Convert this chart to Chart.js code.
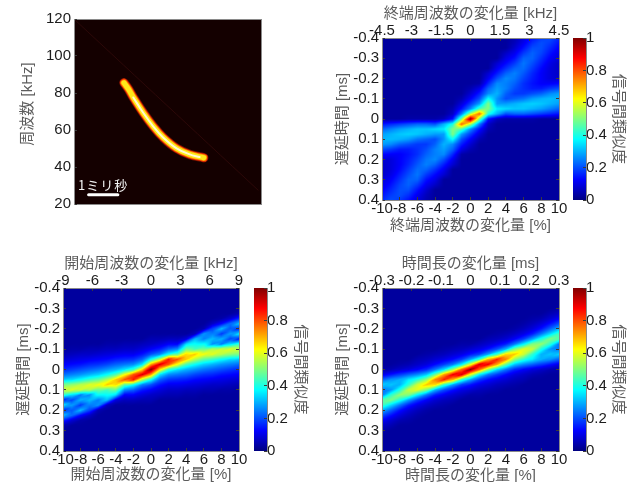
<!DOCTYPE html>
<html>
<head>
<meta charset="utf-8">
<script src="https://cdn.jsdelivr.net/npm/chart.js@4"></script>
<style>
  html, body { margin: 0; background: #fff; overflow: hidden; width: 642px; height: 482px; }
  canvas { position: absolute; filter: blur(0.5px); }
</style>
</head>
<body>
<script>
// eixos
const pctAxis = [-10, -9, -8, -7, -6, -5, -4, -3, -2, -1, 0, 1, 2, 3, 4, 5, 6, 7, 8, 9, 10];
const delayAxis = [-0.4, -0.375, -0.35, -0.325, -0.3, -0.275, -0.25, -0.225, -0.2, -0.175, -0.15, -0.125, -0.1, -0.075, -0.05, -0.025, 0,
  0.025, 0.05, 0.075, 0.1, 0.125, 0.15, 0.175, 0.2, 0.225, 0.25, 0.275, 0.3, 0.325, 0.35, 0.375, 0.4];
const pctTicks = [-10, -8, -6, -4, -2, 0, 2, 4, 6, 8, 10];
const delayTicks = [-0.4, -0.3, -0.2, -0.1, 0, 0.1, 0.2, 0.3, 0.4];
const endKhzTicks = [-4.5, -3, -1.5, 0, 1.5, 3, 4.5];
const startKhzTicks = [-9, -6, -3, 0, 3, 6, 9];
const durationMsTicks = [-0.3, -0.2, -0.1, 0, 0.1, 0.2, 0.3];
const colorbarTicks = [0, 0.2, 0.4, 0.6, 0.8, 1];
const colorbarLevels = [0, 0.1, 0.2, 0.3, 0.4, 0.5, 0.6, 0.7, 0.8, 0.9, 1];
const freqTicks = [20, 40, 60, 80, 100, 120];

// espectrograma
const chirpMs = [1.71, 1.87, 2.03, 2.37, 2.71, 3.05, 3.51, 3.96, 4.44];
const chirpKhz = [85.5, 82, 77.6, 69.3, 62, 56, 50.1, 46.8, 45];
const coreMs = [2.03, 2.37, 2.71, 3.05, 3.51, 3.96, 4.3];
const coreKhz = [77.6, 69.3, 62, 56, 50.1, 46.8, 45.4];
const scaleBarMs = [0.5, 1.5];
const scaleBarKhz = [25, 25];
const faintMs = [0, 6.3];
const faintKhz = [120, 27.5];

// similaridade em %, linhas = atraso, colunas = variação
const Q10 = [3, 3, 3, 3, 3, 3, 3, 3, 3, 3];
const CALM = [...Q10, ...Q10, 3];

const endRows = [
  [...Q10, 3, 3, 3, 3, 3, 5, 9, 14, 18, 20, 16],
  [...Q10, 3, 3, 3, 3, 3, 6, 11, 17, 20, 18, 14],
  [...Q10, 3, 3, 3, 3, 3, 8, 14, 20, 20, 16, 12],
  [...Q10, 3, 3, 3, 3, 7, 11, 18, 22, 19, 14, 10],
  [...Q10, 3, 3, 3, 3, 10, 14, 22, 22, 17, 12, 9],
  [...Q10, 3, 3, 3, 8, 13, 18, 24, 20, 15, 10, 7],
  [...Q10, 3, 3, 3, 11, 17, 22, 23, 18, 13, 9, 7],
  [...Q10, 3, 3, 8, 15, 22, 25, 21, 16, 12, 9, 7],
  [...Q10, 3, 3, 11, 20, 26, 24, 19, 15, 12, 9, 8],
  [...Q10, 3, 4, 16, 26, 25, 22, 17, 14, 12, 12, 13],
  [...Q10, 5, 10, 22, 28, 25, 20, 17, 15, 15, 18, 20],
  [...Q10, 8, 15, 26, 30, 22, 18, 18, 20, 22, 26, 28],
  [3, 3, 3, 3, 3, 3, 3, 3, 3, 5, 12, 20, 38, 27, 20, 22, 24, 28, 30, 31, 30],
  [3, 3, 3, 3, 3, 3, 3, 3, 3, 9, 18, 28, 50, 28, 28, 30, 32, 33, 32, 30, 28],
  [3, 3, 3, 3, 3, 3, 3, 3, 5, 14, 26, 45, 50, 36, 34, 32, 32, 30, 28, 25, 22],
  [3, 3, 3, 3, 3, 3, 3, 3, 7, 25, 55, 78, 40, 30, 20, 22, 22, 20, 18, 16, 14],
  [3, 3, 3, 4, 4, 4, 4, 6, 14, 50, 100, 50, 14, 6, 4, 4, 4, 4, 3, 3, 3],
  [14, 16, 18, 20, 22, 22, 20, 30, 40, 78, 55, 25, 7, 3, 3, 3, 3, 3, 3, 3, 3],
  [22, 25, 28, 30, 32, 32, 34, 36, 50, 45, 26, 14, 5, 3, 3, 3, 3, 3, 3, 3, 3],
  [28, 30, 32, 33, 32, 30, 28, 28, 50, 28, 18, 9, 3, 3, 3, 3, 3, 3, 3, 3, 3],
  [30, 31, 30, 28, 24, 22, 20, 27, 38, 20, 12, 5, 3, 3, 3, 3, 3, 3, 3, 3, 3],
  [28, 26, 22, 20, 18, 18, 22, 30, 26, 15, 8, ...Q10],
  [20, 18, 15, 15, 17, 20, 25, 28, 22, 10, 5, ...Q10],
  [13, 12, 12, 14, 17, 22, 25, 26, 16, 4, 3, ...Q10],
  [8, 9, 12, 15, 19, 24, 26, 20, 11, 3, 3, ...Q10],
  [7, 9, 12, 16, 21, 25, 22, 15, 8, 3, 3, ...Q10],
  [7, 9, 13, 18, 23, 22, 17, 11, 3, 3, 3, ...Q10],
  [7, 10, 15, 20, 24, 18, 13, 8, 3, 3, 3, ...Q10],
  [9, 12, 17, 22, 22, 14, 10, 3, 3, 3, 3, ...Q10],
  [10, 14, 19, 22, 18, 11, 7, 3, 3, 3, 3, ...Q10],
  [12, 16, 20, 20, 14, 8, 3, 3, 3, 3, 3, ...Q10],
  [14, 18, 20, 17, 11, 6, 3, 3, 3, 3, 3, ...Q10],
  [16, 20, 18, 14, 9, 5, 3, 3, 3, 3, 3, ...Q10]
];

const startRows = [
  CALM, CALM, CALM, CALM, CALM,
  [...Q10, 3, 3, 3, 3, 3, 3, 3, 3, 3, 3, 5],
  [...Q10, 3, 3, 3, 3, 3, 3, 3, 3, 4, 8, 16],
  [...Q10, 3, 3, 3, 3, 3, 3, 3, 7, 13, 23, 32],
  [...Q10, 3, 3, 3, 3, 3, 3, 5, 19, 31, 21, 15],
  [...Q10, 3, 3, 3, 3, 3, 6, 27, 25, 18, 28, 36],
  [...Q10, 5, 5, 6, 6, 9, 31, 25, 31, 30, 19, 14],
  [3, 3, 3, 3, 3, 4, 4, 5, 5, 6, 7, 9, 12, 12, 34, 38, 38, 26, 24, 34, 42],
  [3, 4, 4, 5, 5, 6, 6, 7, 7, 9, 12, 15, 22, 26, 48, 44, 48, 55, 58, 60, 58],
  [5, 6, 7, 7, 8, 9, 10, 11, 11, 14, 20, 25, 38, 46, 66, 68, 62, 60, 56, 52, 50],
  [8, 9, 10, 11, 12, 13, 15, 16, 17, 22, 38, 55, 86, 80, 68, 55, 47, 43, 38, 34, 32],
  [12, 13, 14, 16, 17, 19, 22, 24, 26, 35, 72, 92, 80, 62, 45, 38, 33, 30, 27, 25, 23],
  [16, 18, 20, 22, 24, 27, 30, 35, 42, 66, 100, 66, 42, 35, 30, 27, 24, 22, 20, 18, 16],
  [23, 25, 27, 30, 33, 38, 45, 62, 80, 92, 72, 35, 26, 24, 22, 19, 17, 16, 14, 13, 12],
  [32, 34, 38, 43, 47, 55, 68, 80, 86, 55, 38, 22, 17, 16, 15, 13, 12, 11, 10, 9, 8],
  [50, 52, 56, 60, 62, 68, 66, 46, 38, 25, 20, 14, 11, 11, 10, 9, 8, 7, 7, 6, 5],
  [58, 60, 58, 55, 48, 44, 48, 26, 22, 15, 12, 9, 7, 7, 6, 6, 5, 5, 4, 4, 3],
  [42, 34, 24, 26, 38, 38, 34, 12, 12, 9, 7, 6, 5, 5, 4, 4, 3, 3, 3, 3, 3],
  [14, 19, 30, 31, 25, 31, 9, 6, 6, 5, 5, ...Q10],
  [36, 28, 18, 25, 27, 6, 3, 3, 3, 3, 3, ...Q10],
  [15, 21, 31, 19, 5, 3, 3, 3, 3, 3, 3, ...Q10],
  [32, 23, 13, 7, 3, 3, 3, 3, 3, 3, 3, ...Q10],
  [16, 8, 4, 3, 3, 3, 3, 3, 3, 3, 3, ...Q10],
  [5, 3, 3, 3, 3, 3, 3, 3, 3, 3, 3, ...Q10],
  CALM, CALM, CALM, CALM, CALM
];

const durationRows = [
  CALM, CALM, CALM, CALM,
  [...Q10, 3, 3, 3, 3, 3, 3, 3, 3, 3, 3, 4],
  [...Q10, 3, 3, 3, 3, 3, 3, 3, 3, 3, 5, 7],
  [...Q10, 3, 3, 3, 3, 3, 3, 3, 4, 5, 8, 12],
  [...Q10, 3, 3, 3, 3, 3, 3, 4, 6, 9, 14, 20],
  [...Q10, 3, 3, 3, 3, 3, 4, 6, 9, 14, 22, 30],
  [...Q10, 3, 3, 3, 4, 5, 7, 10, 15, 24, 34, 44],
  [...Q10, 3, 3, 5, 6, 8, 12, 18, 28, 40, 50, 46],
  [3, 3, 3, 3, 3, 3, 3, 3, 3, 4, 4, 6, 8, 11, 15, 24, 36, 50, 52, 42, 24],
  [3, 3, 3, 3, 3, 3, 3, 4, 5, 6, 8, 10, 14, 20, 30, 50, 60, 57, 40, 27, 24],
  [3, 3, 3, 3, 3, 4, 5, 6, 8, 10, 14, 18, 28, 42, 66, 68, 58, 42, 30, 32, 33],
  [3, 3, 3, 3, 5, 6, 8, 10, 13, 18, 28, 42, 70, 85, 75, 52, 42, 36, 30, 27, 22],
  [3, 3, 4, 5, 7, 9, 13, 18, 24, 36, 60, 92, 90, 72, 48, 32, 26, 22, 18, 14, 10],
  [4, 5, 7, 9, 12, 16, 24, 34, 52, 78, 100, 78, 52, 34, 24, 16, 12, 9, 7, 5, 4],
  [10, 14, 18, 22, 26, 32, 48, 72, 90, 92, 60, 36, 24, 18, 13, 9, 7, 5, 4, 3, 3],
  [22, 27, 30, 36, 42, 52, 75, 85, 70, 42, 28, 18, 13, 10, 8, 6, 5, 3, 3, 3, 3],
  [33, 32, 30, 42, 58, 68, 66, 42, 28, 18, 14, 10, 8, 6, 5, 4, 3, 3, 3, 3, 3],
  [24, 27, 40, 57, 60, 50, 30, 20, 14, 10, 8, 6, 5, 4, 3, 3, 3, 3, 3, 3, 3],
  [24, 42, 52, 50, 36, 24, 15, 11, 8, 6, 4, 4, 3, 3, 3, 3, 3, 3, 3, 3, 3],
  [46, 50, 40, 28, 18, 12, 8, 6, 5, 3, 3, ...Q10],
  [44, 34, 24, 15, 10, 7, 5, 4, 3, 3, 3, ...Q10],
  [30, 22, 14, 9, 6, 4, 3, 3, 3, 3, 3, ...Q10],
  [20, 14, 9, 6, 4, 3, 3, 3, 3, 3, 3, ...Q10],
  [12, 8, 5, 4, 3, 3, 3, 3, 3, 3, 3, ...Q10],
  [7, 5, 3, 3, 3, 3, 3, 3, 3, 3, 3, ...Q10],
  [4, 3, 3, 3, 3, 3, 3, 3, 3, 3, 3, ...Q10],
  CALM, CALM, CALM, CALM
];

const FONT = "'Liberation Sans', 'Noto Sans CJK JP', sans-serif";
const TICK_COLOR = '#1c1c1c';
const TITLE_COLOR = '#5c5c5c';
const FRAME_COLOR = '#8a8a8a';
const TICK_FONT = { family: FONT, size: 15 };
const SIMILARITY_LABEL = '信号間類似度';

function jetColor(v) {
    const r = Math.min(4 * v - 1.5, -4 * v + 4.5);
    const g = Math.min(4 * v - 0.5, -4 * v + 3.5);
    const b = Math.min(4 * v + 0.5, -4 * v + 2.5);
    const clamp = c => Math.round(255 * Math.max(0, Math.min(1, c)));
    return [clamp(r), clamp(g), clamp(b)];
}

function lowerIndex(axis, value) {
    let i = 0;
    while (i < axis.length - 2 && axis[i + 1] <= value) i++;
    return i;
}

// valor de uma coluna da grade num atraso qualquer
function sampleColumn(rows, ys, col, y) {
    const j = lowerIndex(ys, y);
    const t = Math.max(0, Math.min(1, (y - ys[j]) / (ys[j + 1] - ys[j])));
    return rows[j][col] * (1 - t) + rows[j + 1][col] * t;
}

// pinta a grade de valores usando as escalas do próprio gráfico;
// gridShear inclina a suavização entre colunas para seguir as faixas
const heatPlugin = {
    id: 'heatGrid',
    beforeDatasetsDraw(chart) {
        const ds = chart.data.datasets[0];
        if (!ds.gridRows) return;
        const { left, top, width, height } = chart.chartArea;
        const w = Math.round(width), h = Math.round(height);
        const x0 = Math.round(left), y0 = Math.round(top);
        const img = chart.ctx.createImageData(w, h);
        const xs = ds.gridX, ys = ds.gridY, rows = ds.gridRows;
        const shear = ds.gridShear || 0;
        for (let py = 0; py < h; py++) {
            const yv = chart.scales.y.getValueForPixel(y0 + py + 0.5);
            for (let px = 0; px < w; px++) {
                const xv = chart.scales.x.getValueForPixel(x0 + px + 0.5);
                const i = lowerIndex(xs, xv);
                const tx = Math.max(0, Math.min(1, (xv - xs[i]) / (xs[i + 1] - xs[i])));
                const a = sampleColumn(rows, ys, i, yv - shear * (xv - xs[i]));
                const b = sampleColumn(rows, ys, i + 1, yv + shear * (xs[i + 1] - xv));
                const c = jetColor((a * (1 - tx) + b * tx) / 100);
                const k = (py * w + px) * 4;
                img.data[k] = c[0]; img.data[k + 1] = c[1]; img.data[k + 2] = c[2]; img.data[k + 3] = 255;
            }
        }
        chart.ctx.putImageData(img, x0, y0);
    }
};

// fundo e rótulo da barra de escala do espectrograma
const spectrogramPlugin = {
    id: 'spectrogramExtras',
    beforeDatasetsDraw(chart) {
        if (!chart.data.datasets[0].isSpectrogram) return;
        const { left, top, width, height } = chart.chartArea;
        chart.ctx.fillStyle = '#140000';
        chart.ctx.fillRect(left, top, width, height);
    },
    afterDatasetsDraw(chart) {
        if (!chart.data.datasets[0].isSpectrogram) return;
        const ctx = chart.ctx;
        ctx.save();
        ctx.fillStyle = '#f4f4f4';
        ctx.font = "13px 'Noto Sans CJK JP'";
        ctx.letterSpacing = '1px';
        ctx.textAlign = 'center';
        ctx.textBaseline = 'middle';
        ctx.fillText('1ミリ秒', chart.scales.x.getPixelForValue(1), chart.scales.y.getPixelForValue(30.5));
        ctx.restore();
    }
};

Chart.register(heatPlugin, spectrogramPlugin);

function makeCanvas(plot, margin) {
    const canvas = document.createElement('canvas');
    canvas.width = plot.w + margin.l + margin.r;
    canvas.height = plot.h + margin.t + margin.b;
    canvas.style.left = (plot.x - margin.l) + 'px';
    canvas.style.top = (plot.y - margin.t) + 'px';
    document.body.appendChild(canvas);
    return canvas;
}

function axisConfig(opts) {
    const horizontal = opts.position === 'top' || opts.position === 'bottom';
    return {
        type: 'linear',
        position: opts.position,
        axis: horizontal ? 'x' : 'y',
        min: opts.min,
        max: opts.max,
        reverse: !!opts.reverse,
        afterBuildTicks(scale) { scale.ticks = opts.ticks.map(value => ({ value })); },
        afterFit(scale) {
            if (horizontal) scale.height = opts.size; else scale.width = opts.size;
        },
        grid: { drawOnChartArea: false, drawTicks: true, tickLength: -3, color: '#3a3a3a', z: 1 },
        border: { display: true, color: FRAME_COLOR, z: 1 },
        ticks: {
            display: !!opts.labels,
            autoSkip: false,
            maxRotation: 0,
            minRotation: 0,
            padding: opts.padding === undefined ? 6 : opts.padding,
            color: TICK_COLOR,
            font: TICK_FONT,
            callback: value => String(value)
        },
        title: opts.title ? {
            display: true,
            text: opts.title,
            color: TITLE_COLOR,
            font: { family: FONT, size: 15 },
            padding: 0
        } : { display: false }
    };
}

function cellsOf(xs, ys, rows) {
    const cells = [];
    ys.forEach((y, j) => xs.forEach((x, i) => cells.push({ x, y, v: rows[j][i] })));
    return cells;
}

function createHeatmap(plot, margin, rows, text, topTicks, shear) {
    const topMax = topTicks[topTicks.length - 1];
    new Chart(makeCanvas(plot, margin), {
        type: 'scatter',
        data: {
            datasets: [{
                data: cellsOf(pctAxis, delayAxis, rows),
                gridX: pctAxis, gridY: delayAxis, gridRows: rows, gridShear: shear,
                pointRadius: 0, pointHoverRadius: 0
            }]
        },
        options: {
            responsive: false,
            animation: false,
            layout: { padding: 0 },
            plugins: { legend: { display: false }, tooltip: { enabled: false } },
            scales: {
                x: axisConfig({ position: 'bottom', min: -10, max: 10, ticks: pctTicks, labels: true, padding: 3, size: margin.b, title: text.bottom }),
                xTop: axisConfig({ position: 'top', min: -topMax, max: topMax, ticks: topTicks, labels: true, padding: 1, size: margin.t, title: text.top }),
                y: axisConfig({ position: 'left', min: -0.4, max: 0.4, reverse: true, ticks: delayTicks, labels: true, size: margin.l, title: '遅延時間 [ms]' }),
                yRight: axisConfig({ position: 'right', min: -0.4, max: 0.4, reverse: true, ticks: delayTicks, size: margin.r })
            }
        }
    });
}

function createColorbar(plot, margin) {
    const rows = colorbarLevels.map(v => [v * 100, v * 100]);
    new Chart(makeCanvas(plot, margin), {
        type: 'scatter',
        data: {
            datasets: [{
                data: cellsOf([0, 1], colorbarLevels, rows),
                gridX: [0, 1], gridY: colorbarLevels, gridRows: rows,
                pointRadius: 0, pointHoverRadius: 0
            }]
        },
        options: {
            responsive: false,
            animation: false,
            layout: { padding: 0 },
            plugins: { legend: { display: false }, tooltip: { enabled: false } },
            scales: {
                x: { type: 'linear', min: 0, max: 1, display: false },
                y: axisConfig({ position: 'right', min: 0, max: 1, ticks: colorbarTicks, labels: true, padding: 3, size: margin.r, title: SIMILARITY_LABEL })
            }
        }
    });
}

function createSpectrogram(plot, margin) {
    const line = (xs, ys, color, width) => ({
        data: xs.map((x, i) => ({ x, y: ys[i] })),
        showLine: true,
        borderColor: color,
        borderWidth: width,
        borderCapStyle: 'round',
        tension: 0.4,
        pointRadius: 0,
        pointHoverRadius: 0
    });
    const datasets = [
        line(scaleBarMs, scaleBarKhz, '#ffffff', 3),
        line(coreMs, coreKhz, '#fffbd0', 2),
        line(chirpMs, chirpKhz, '#ffe81a', 5),
        line(chirpMs, chirpKhz, '#ff9a00', 6.5),
        line(chirpMs, chirpKhz, '#f03000', 8),
        line(chirpMs, chirpKhz, '#701000', 9.5),
        line(faintMs, faintKhz, '#2c0808', 1)
    ];
    datasets[0].isSpectrogram = true;
    new Chart(makeCanvas(plot, margin), {
        type: 'scatter',
        data: { datasets },
        options: {
            responsive: false,
            animation: false,
            layout: { padding: 0 },
            plugins: { legend: { display: false }, tooltip: { enabled: false } },
            scales: {
                x: axisConfig({ position: 'bottom', min: 0, max: 6.4, ticks: [], size: margin.b }),
                xTop: axisConfig({ position: 'top', min: 0, max: 6.4, ticks: [], size: margin.t }),
                y: axisConfig({ position: 'left', min: 20, max: 120, ticks: freqTicks, labels: true, size: margin.l, title: '\u3000周波数 [kHz]' }),
                yRight: axisConfig({ position: 'right', min: 20, max: 120, ticks: [], size: margin.r })
            }
        }
    });
}

createSpectrogram({ x: 74, y: 19, w: 187, h: 185 }, { l: 55, t: 19, r: 4, b: 20 });

createHeatmap({ x: 382, y: 38, w: 177, h: 162 }, { l: 48, t: 33, r: 20, b: 35 }, endRows,
    { top: '終端周波数の変化量 [kHz]', bottom: '終端周波数の変化量 [%]' }, endKhzTicks, -0.004);
createColorbar({ x: 575, y: 38, w: 11, h: 162 }, { l: 2, t: 12, r: 41, b: 12 });

createHeatmap({ x: 63, y: 288, w: 176, h: 163 }, { l: 48, t: 33, r: 20, b: 33 }, startRows,
    { top: '開始周波数の変化量 [kHz]', bottom: '開始周波数の変化量 [%]' }, startKhzTicks, -0.0125);
createColorbar({ x: 256, y: 288, w: 11, h: 163 }, { l: 2, t: 12, r: 42, b: 12 });

createHeatmap({ x: 382, y: 288, w: 177, h: 163 }, { l: 48, t: 33, r: 20, b: 34 }, durationRows,
    { top: '時間長の変化量 [ms]', bottom: '時間長の変化量 [%]' }, durationMsTicks, -0.0125);
createColorbar({ x: 575, y: 288, w: 11, h: 163 }, { l: 2, t: 12, r: 41, b: 12 });
</script>
</body>
</html>
